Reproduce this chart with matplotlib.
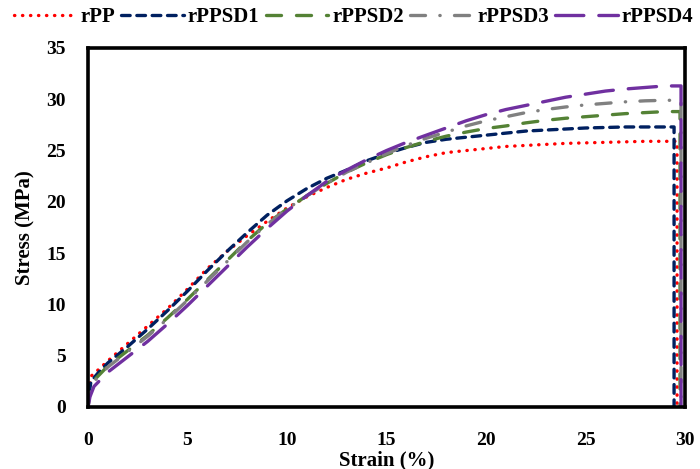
import numpy as np
import matplotlib.pyplot as plt

plt.rcParams['font.family'] = ['Liberation Serif', 'DejaVu Serif']
plt.rcParams['font.weight'] = 'bold'

# ____Data (strain %, stress MPa)____
strain_pp = [0, 0.05, 0.15, 0.5, 1, 2, 3, 4, 5, 6, 7, 8, 9, 10, 11, 12, 13, 14, 15,
             16, 17, 18, 19, 20, 21, 22, 23, 24, 25, 26, 27, 28, 29, 29.6, 29.6]
stress_pp = [0, 1.8, 3.0, 3.6, 4.5, 6.2, 7.9, 9.6, 11.5, 13.5, 15.2, 16.7, 18.1, 19.4,
             20.5, 21.4, 22.2, 22.8, 23.3, 23.9, 24.4, 24.8, 25.0, 25.2, 25.4, 25.5,
             25.6, 25.7, 25.75, 25.8, 25.85, 25.9, 25.9, 25.9, 0]

strain_sd1 = [0, 0.05, 0.15, 0.5, 1, 2, 3, 4, 5, 6, 7, 8, 9, 10, 11, 12, 13, 14, 15,
              16, 17, 18, 19, 20, 21, 22, 23, 24, 25, 26, 27, 28, 29, 29.45, 29.45]
stress_sd1 = [0, 1.2, 2.5, 3.3, 4.3, 5.9, 7.6, 9.4, 11.3, 13.3, 15.2, 17.0, 18.7, 20.1,
              21.3, 22.3, 23.1, 24.0, 24.7, 25.3, 25.8, 26.1, 26.3, 26.5, 26.7, 26.9,
              27.0, 27.1, 27.2, 27.25, 27.3, 27.3, 27.3, 27.3, 0]

strain_sd2 = [0, 0.1, 0.3, 1, 2, 3, 4, 5, 6, 7, 8, 9, 10, 11, 12, 13, 14, 15, 16, 17,
              18, 19, 20, 21, 22, 23, 24, 25, 26, 27, 28, 29, 29.75, 29.75]
stress_sd2 = [0, 1.5, 2.6, 4.0, 5.5, 7.0, 8.7, 10.5, 12.4, 14.3, 16.2, 17.9, 19.3, 20.6,
              21.8, 22.9, 23.8, 24.6, 25.3, 25.9, 26.4, 26.8, 27.15, 27.4, 27.7, 27.95,
              28.15, 28.3, 28.45, 28.6, 28.7, 28.8, 28.8, 0]

strain_sd3 = [0, 0.1, 0.3, 1, 2, 3, 4, 5, 6, 7, 8, 9, 10, 11, 12, 13, 14, 15, 16, 17,
              18, 19, 20, 21, 22, 23, 24, 25, 26, 27, 28, 29, 29.8, 29.8]
stress_sd3 = [0, 1.4, 2.5, 3.9, 5.4, 6.9, 8.6, 10.4, 12.3, 14.2, 16.1, 17.8, 19.3, 20.6,
              21.8, 22.9, 23.8, 24.7, 25.5, 26.2, 26.8, 27.4, 27.9, 28.3, 28.7, 29.0,
              29.25, 29.45, 29.6, 29.75, 29.85, 29.9, 29.9, 0]

strain_sd4 = [0, 0.1, 0.3, 1, 2, 3, 4, 5, 6, 7, 8, 9, 10, 11, 12, 13, 14, 15, 16, 17,
              18, 19, 20, 21, 22, 23, 24, 25, 26, 27, 28, 29, 29.8, 29.8]
stress_sd4 = [0, 1.0, 2.0, 3.4, 4.9, 6.4, 8.1, 9.9, 11.8, 13.7, 15.6, 17.4, 19.1, 20.6,
              22.0, 23.1, 24.1, 25.0, 25.8, 26.5, 27.2, 27.9, 28.5, 29.0, 29.4, 29.8,
              30.2, 30.5, 30.8, 31.0, 31.15, 31.3, 31.3, 0]

labels = ['rPP', 'rPPSD1', 'rPPSD2', 'rPPSD3', 'rPPSD4']
colors = ['#FF0000', '#002060', '#548235', '#808080', '#7030A0']

fig = plt.figure(figsize=(7, 4.69), dpi=100)
ax = fig.add_axes([0.1257, 0.1322, 0.8529, 0.7655])

lw = 2.4
ax.plot(strain_pp, stress_pp, color=colors[0], lw=lw, linestyle=(0, (0.1, 2.3)),
        dash_capstyle='round', label=labels[0])
ax.plot(strain_sd1, stress_sd1, color=colors[1], lw=lw, linestyle=(0, (2.6, 2.0)),
        dash_capstyle='round', label=labels[1])
ax.plot(strain_sd2, stress_sd2, color=colors[2], lw=lw, linestyle=(0, (4.5, 4.5)),
        dash_capstyle='round', label=labels[2])
ax.plot(strain_sd3, stress_sd3, color=colors[3], lw=lw, linestyle=(0, (4.5, 4.3, 0.1, 4.3)),
        dash_capstyle='round', label=labels[3])
ax.plot(strain_sd4, stress_sd4, color=colors[4], lw=lw, linestyle=(0, (8.5, 4.5)),
        dash_capstyle='round', label=labels[4])

ax.set_xlim(0, 30)
ax.set_ylim(0, 35)
ax.set_xticks(np.arange(0, 31, 5))
ax.set_yticks(np.arange(0, 36, 5))
ax.tick_params(length=0, labelsize=14)
ax.tick_params(axis='x', pad=18)
ax.tick_params(axis='y', pad=16)
for s in ax.spines.values():
    s.set_linewidth(2.6)
    s.set_color('black')

ax.set_xlabel('Strain (%)', fontsize=15, fontweight='bold', labelpad=1)
ax.set_ylabel('Stress (MPa)', fontsize=15, fontweight='bold', labelpad=8)

fig.legend(loc='center', bbox_to_anchor=(0.505, 0.963), ncol=5, frameon=False,
           fontsize=15, handlelength=3.0, handletextpad=0.2, columnspacing=0.3)

fig.savefig('out.png', dpi=100)
